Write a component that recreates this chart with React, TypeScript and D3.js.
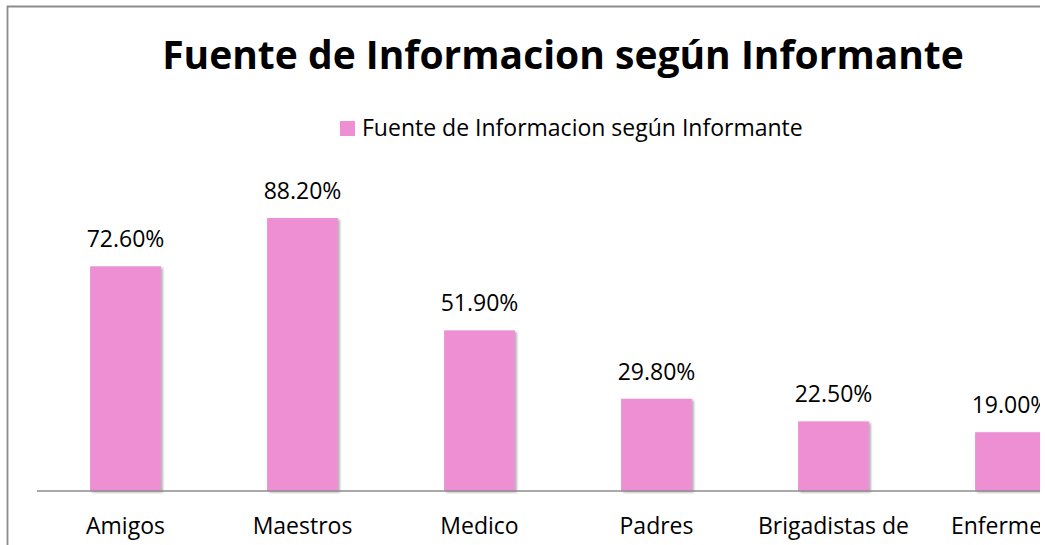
import React from "react";
import * as d3 from "d3";

const title = "Fuente de Informacion según Informante";
const seriesName = "Fuente de Informacion según Informante";
const categories = ["Amigos", "Maestros", "Medico", "Padres", "Brigadistas de", "Enfermeria"];
const values = [72.6, 88.2, 51.9, 29.8, 22.5, 19.0];
const valueLabels = ["72.60%", "88.20%", "51.90%", "29.80%", "22.50%", "19.00%"];

const W = 1045;
const H = 545;
const barColor = "#EE8FD4";
const font = "'Open Sans', 'Noto Sans', sans-serif";

export default function App() {
  const x = d3.scaleBand<string>().domain(categories).range([37, 37 + 177 * categories.length]).paddingInner(0.6).paddingOuter(0.3);
  const y = d3.scaleLinear().domain([0, 100]).range([491, 181.5]);
  const bw = x.bandwidth();

  return (
    <svg width={W} height={H} style={{ position: "absolute", left: 0, top: 0, background: "#fff" }} fontFamily={font}>
      <defs>
        <clipPath id="clip">
          <rect x={0} y={0} width={1040} height={H} />
        </clipPath>
        <filter id="sh" x="-20%" y="-20%" width="140%" height="140%">
          <feDropShadow dx={2} dy={1.5} stdDeviation={1.2} floodColor="#000" floodOpacity={0.3} />
        </filter>
      </defs>
      <rect x={0} y={0} width={W} height={H} fill="#fff" />
      <g clipPath="url(#clip)">
        <path d={`M7.5,${H} V6.5 H${W}`} fill="none" stroke="#8c8c8c" strokeWidth={1.8} />
        <text x={563} y={69} textAnchor="middle" fontSize={39} fontWeight="bold" fill="#000">{title}</text>
        <rect x={340} y={121} width={15} height={15} fill={barColor} />
        <text x={362} y={136} fontSize={23} fill="#000">{seriesName}</text>
        {categories.map((c, i) => (
          <rect key={c} x={x(c)!} y={y(values[i])} width={bw} height={y(0) - y(values[i])} fill={barColor} filter="url(#sh)" />
        ))}
        <line x1={37} x2={W} y1={491} y2={491} stroke="#8c8c8c" strokeWidth={1.5} />
        {categories.map((c, i) => (
          <text key={c + "v"} x={x(c)! + bw / 2} y={y(values[i]) - 19} textAnchor="middle" fontSize={23} fill="#000">{valueLabels[i]}</text>
        ))}
        {categories.map((c) => (
          <text key={c + "l"} x={x(c)! + bw / 2} y={534} textAnchor="middle" fontSize={23} fill="#000">{c}</text>
        ))}
      </g>
    </svg>
  );
}
